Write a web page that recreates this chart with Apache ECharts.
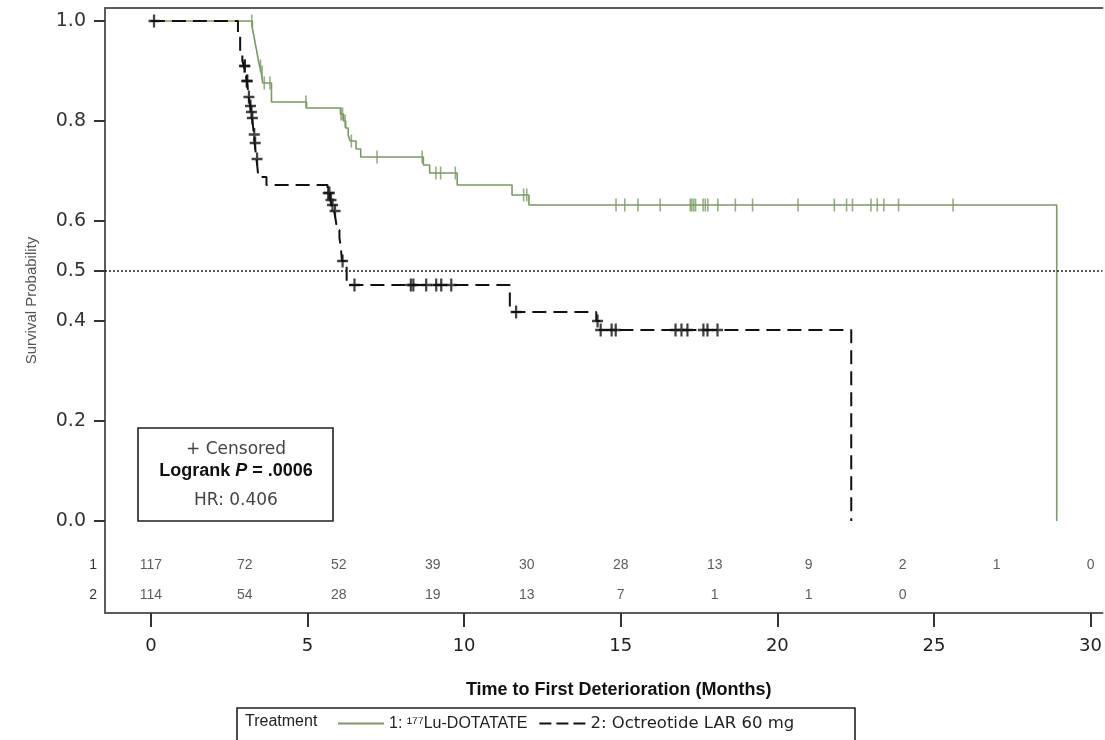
<!DOCTYPE html>
<html>
<head>
<meta charset="utf-8">
<script src="https://cdn.jsdelivr.net/npm/echarts@6/dist/echarts.min.js"></script>
<style>
html,body{margin:0;padding:0;background:#fff;}
#chart{width:1105px;height:740px;}
</style>
</head>
<body>
<div id="chart"></div>
<script>
// ---------- DATA ----------
const luName = '1: ¹⁷⁷Lu-DOTATATE';
const octName = '2: Octreotide LAR 60 mg';

// Kaplan-Meier steps [month, survival after the event]
const luSteps = [[0,1.0],[3.24,0.985],[3.29,0.97],[3.33,0.955],[3.38,0.94],[3.42,0.925],[3.47,0.91],[3.52,0.898],[3.57,0.876],[3.85,0.838],[4.97,0.826],[6.05,0.814],[6.15,0.80],[6.22,0.786],[6.30,0.772],[6.36,0.76],[6.55,0.744],[6.70,0.728],[8.70,0.712],[8.90,0.696],[9.78,0.672],[11.53,0.652],[12.07,0.632],[28.92,0]];
const octSteps = [[0,1.0],[2.78,0.97],[2.85,0.94],[2.92,0.92],[2.97,0.91],[3.02,0.895],[3.06,0.88],[3.10,0.862],[3.12,0.848],[3.17,0.83],[3.20,0.818],[3.23,0.806],[3.26,0.79],[3.29,0.773],[3.31,0.756],[3.34,0.74],[3.37,0.724],[3.40,0.708],[3.43,0.688],[3.69,0.672],[5.64,0.656],[5.72,0.642],[5.78,0.632],[5.85,0.62],[5.90,0.602],[5.95,0.582],[6.02,0.566],[6.06,0.55],[6.10,0.52],[6.25,0.472],[11.46,0.418],[14.22,0.40],[14.32,0.382],[22.36,0]];

// censoring times (months)
const luCensor = [3.22,3.50,3.55,3.62,3.80,4.95,6.07,6.12,6.20,6.40,7.22,8.66,9.10,9.25,9.72,11.9,12.0,14.85,15.13,15.55,16.26,17.22,17.27,17.33,17.39,17.63,17.70,17.78,18.10,18.66,19.21,20.66,21.82,22.21,22.40,22.99,23.19,23.40,23.87,25.61];
const octCensor = [0.1,2.99,3.0,3.06,3.08,3.13,3.18,3.21,3.24,3.30,3.33,3.39,5.66,5.70,5.75,5.80,5.88,6.12,6.5,8.30,8.38,8.79,9.11,9.27,9.59,11.66,14.26,14.36,14.71,14.84,16.75,16.94,17.13,17.64,17.77,18.09];

// numbers at risk
const riskMonths = [0,3,6,9,12,15,18,21,24,27,30];
const riskLu = [117,72,52,39,30,28,13,9,2,1,0];
const riskOct = [114,54,28,19,13,7,1,1,0];

const yTicks = [0,0.2,0.4,0.5,0.6,0.8,1.0];
const xTicks = [0,5,10,15,20,25,30];

// ---------- helpers ----------
function survAt(steps, t){
  let s = steps[0][1];
  for (const [st, sv] of steps){ if (st <= t) s = sv; else break; }
  return s;
}
const FONT = 'Liberation Sans, Arial, sans-serif';
const WIDE = 'DejaVu Sans, Liberation Sans, sans-serif';
const GREEN = '#7a9c60';
const BLACK = '#111111';
const FRAME = '#5c5c5c';
const ROW1 = -0.088, ROW2 = -0.148;
const XMIN = -1.465, XMAX = 30.38;

const chart = echarts.init(document.getElementById('chart'), null, {renderer:'canvas'});
const option = {
  animation:false,
  backgroundColor:'#ffffff',
  grid:{left:105, top:8, right:0, bottom:127, show:false},
  xAxis:[{
    type:'value', min:XMIN, max:XMAX, position:'bottom',
    name:'Time to First Deterioration (Months)', nameLocation:'middle', nameGap:68,
    nameTextStyle:{fontFamily:FONT, fontSize:18, fontWeight:'bold', color:'#111', padding:[0,0,0,30]},
    axisLine:{show:true, onZero:false, lineStyle:{color:FRAME, width:2}},
    axisTick:{show:true, inside:false, length:14, customValues:xTicks, lineStyle:{color:'#333', width:2}},
    axisLabel:{show:true, customValues:xTicks, margin:24, fontFamily:WIDE, fontSize:18, color:'#222'},
    splitLine:{show:false}
  },{
    type:'value', min:XMIN, max:XMAX, position:'top',
    axisLine:{show:true, onZero:false, lineStyle:{color:FRAME, width:2}},
    axisTick:{show:false}, axisLabel:{show:false}, splitLine:{show:false}
  }],
  yAxis:{
    type:'value', min:-0.184, max:1.026,
    name:'Survival Probability', nameLocation:'middle', nameGap:66,
    nameTextStyle:{fontFamily:FONT, fontSize:15, color:'#555', padding:[0,0,0,20]},
    axisLine:{show:true, onZero:false, lineStyle:{color:FRAME, width:2}},
    axisTick:{show:true, inside:false, length:11, customValues:yTicks, lineStyle:{color:'#333', width:2}},
    axisLabel:{show:true, customValues:yTicks, margin:19, fontFamily:WIDE, fontSize:19, color:'#333', formatter:v=>v.toFixed(1)},
    splitLine:{show:false}
  },
  legend:{
    data:[
      {name:luName, icon:'path://M0,0H46V2H0Z'},
      {name:octName, icon:'path://M0,0H12V2H0Z M17,0H29V2H17Z M34,0H46V2H34Z'}
    ],
    left:333, top:710, itemWidth:46, itemHeight:2, itemGap:12,
    formatter:n => n === octName ? '{w|' + n + '}' : n,
    textStyle:{fontFamily:FONT, fontSize:16, color:'#222',
      rich:{w:{fontFamily:WIDE, fontSize:16.5, color:'#222'}}},
    selectedMode:false
  },
  series:[
    {
      name:luName, type:'line', step:'end', symbol:'none', data:luSteps,
      lineStyle:{color:GREEN, width:1.6}, itemStyle:{color:GREEN}, z:3,
      markLine:{silent:true, symbol:'none', label:{show:false},
        lineStyle:{color:'#222', type:[2,2], width:1.6}, data:[{yAxis:0.5}]}
    },
    {
      name:octName, type:'line', step:'end', symbol:'none', data:octSteps,
      lineStyle:{color:BLACK, width:2, type:[14,7]}, itemStyle:{color:BLACK}, z:4
    },
    {
      name:'lu-censored', type:'scatter', symbol:'rect', symbolSize:[1.6,13],
      itemStyle:{color:GREEN}, z:5,
      data:luCensor.map(t=>[t, survAt(luSteps,t)])
    },
    {
      name:'oct-censored', type:'scatter',
      symbol:'path://M4,0H6V4H10V6H6V10H4V6H0V4H4Z', symbolSize:[11,13],
      itemStyle:{color:BLACK}, z:6,
      data:octCensor.map(t=>[t, survAt(octSteps,t)])
    },
    {
      name:'risk-lu', type:'scatter', symbolSize:1, itemStyle:{color:'rgba(0,0,0,0)'},
      label:{show:true, position:'inside', formatter:p=>p.value[2], fontFamily:FONT, fontSize:14, color:'#333'},
      data:riskMonths.map((m,i)=>[m, ROW1, riskLu[i]])
    },
    {
      name:'risk-oct', type:'scatter', symbolSize:1, itemStyle:{color:'rgba(0,0,0,0)'},
      label:{show:true, position:'inside', formatter:p=>p.value[2], fontFamily:FONT, fontSize:14, color:'#333'},
      data:riskOct.map((n,i)=>[riskMonths[i], ROW2, n])
    }
  ],
  graphic:[
    {type:'text', x:97, y:565, style:{text:'1', fontFamily:FONT, fontSize:14, fill:'#333', align:'right', verticalAlign:'middle'}},
    {type:'text', x:97, y:595, style:{text:'2', fontFamily:FONT, fontSize:14, fill:'#333', align:'right', verticalAlign:'middle'}},
    {type:'rect', shape:{x:138, y:428, width:195, height:93}, style:{fill:'none', stroke:'#222', lineWidth:1.6}},
    {type:'text', x:236, y:450, style:{text:'+ Censored', fontFamily:WIDE, fontSize:17, fill:'#444', align:'center', verticalAlign:'middle'}},
    {type:'text', x:236, y:471, style:{
      text:'{b|Logrank }{i|P}{b| = .0006}', align:'center', verticalAlign:'middle',
      rich:{b:{fontFamily:FONT, fontSize:18, fontWeight:'bold', fill:'#111'}, i:{fontFamily:FONT, fontSize:18, fontWeight:'bold', fontStyle:'italic', fill:'#111'}}
    }},
    {type:'text', x:236, y:501, style:{text:'HR: 0.406', fontFamily:WIDE, fontSize:17, fill:'#444', align:'center', verticalAlign:'middle'}},
    {type:'rect', shape:{x:237, y:708, width:618, height:40}, style:{fill:'none', stroke:'#222', lineWidth:1.6}},
    {type:'text', x:245, y:722, style:{text:'Treatment', fontFamily:FONT, fontSize:16, fill:'#222', align:'left', verticalAlign:'middle'}}
  ]
};
chart.setOption(option);
</script>
</body>
</html>
